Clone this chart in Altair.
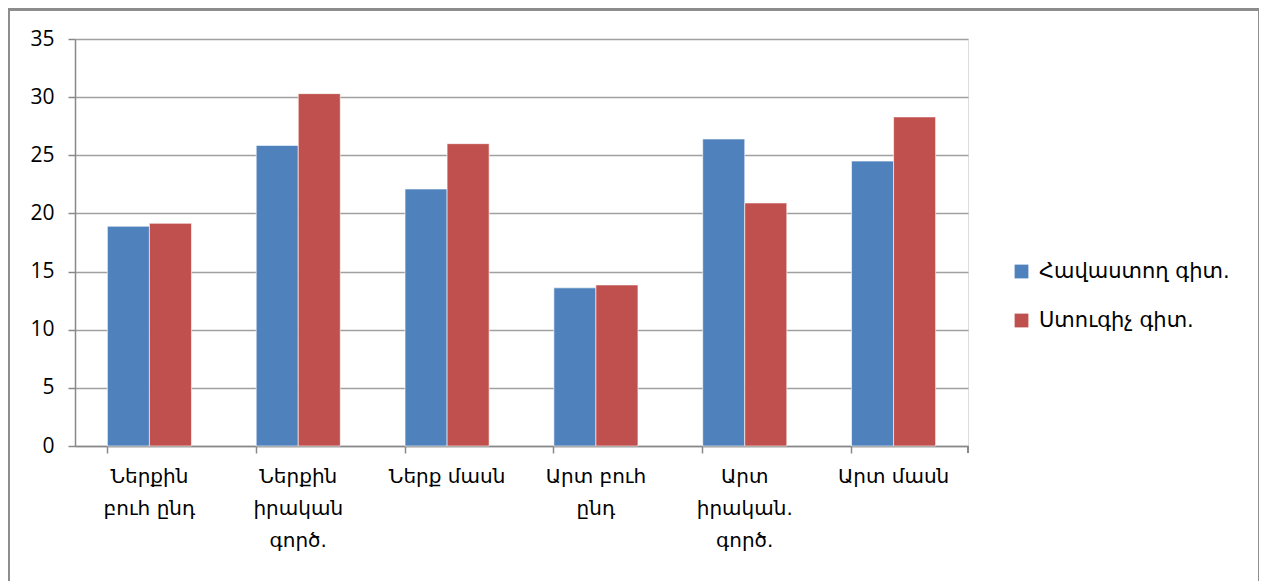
import altair as alt
import pandas as pd

categories = [
    "Ներքին\nբուհ ընդ",
    "Ներքին\nիրական\nգործ.",
    "Ներք մասն",
    "Արտ բուհ\nընդ",
    "Արտ\nիրական.\nգործ.",
    "Արտ մասն",
]
series = ["Հավաստող գիտ.", "Ստուգիչ գիտ."]
values_a = [18.9, 25.85, 22.1, 13.6, 26.4, 24.5]
values_b = [19.15, 30.3, 26.0, 13.85, 20.9, 28.3]
colors = ["#4F81BD", "#C0504D"]
y_ticks = [0, 5, 10, 15, 20, 25, 30, 35]

rows = []
for c, a, b in zip(categories, values_a, values_b):
    rows.append({"cat": c, "series": series[0], "value": a})
    rows.append({"cat": c, "series": series[1], "value": b})
df = pd.DataFrame(rows)

W, H = 893, 407
arm = "DejaVu Sans"

bars = alt.Chart(df).mark_bar(stroke="white", strokeOpacity=0.6, strokeWidth=1).encode(
    x=alt.X(
        "cat:N",
        sort=categories,
        title=None,
        scale=alt.Scale(paddingInner=0.435, paddingOuter=0.2175),
        axis=alt.Axis(
            bandPosition=0,
            labelExpr="split(datum.label, '\\n')",
            labelAngle=0,
            labelFont=arm,
            labelFontSize=20,
            labelLineHeight=32,
            labelColor="#000",
            labelPadding=13,
            labelBaseline="top",
            tickSize=7,
            tickColor="#888",
            domainColor="#888",
            domainWidth=1.5,
            tickWidth=1.5,
            grid=False,
            labelLimit=200,
        ),
    ),
    xOffset=alt.XOffset("series:N", sort=series),
    y=alt.Y(
        "value:Q",
        title=None,
        scale=alt.Scale(domain=[0, 35], nice=False),
        axis=alt.Axis(
            values=y_ticks,
            labelFont="Open Sans",
            labelFontSize=21,
            labelColor="#000",
            labelPadding=14,
            tickSize=7,
            tickColor="#888",
            tickWidth=1.5,
            domainColor="#888",
            domainWidth=1.5,
            gridColor="#a0a0a0",
            gridWidth=1.5,
        ),
    ),
    color=alt.Color(
        "series:N",
        sort=series,
        scale=alt.Scale(domain=series, range=colors),
        legend=alt.Legend(
            title=None,
            orient="none",
            legendX=936,
            legendY=222,
            symbolType="square",
            symbolSize=190,
            symbolStrokeWidth=0,
            symbolOpacity=1,
            labelFont=arm,
            labelFontSize=21,
            labelColor="#000",
            rowPadding=27,
            labelOffset=7,
            labelLimit=300,
        ),
    ),
)

last_tick = alt.Chart(df).mark_rule(color="#888", strokeWidth=1.5).encode(
    x=alt.value(W), y=alt.value(H), y2=alt.value(H + 7)
)

border = alt.Chart(df).mark_rect(fill=None, stroke="#8c8c8c", strokeWidth=2.5).encode(
    x=alt.value(-67), x2=alt.value(1185), y=alt.value(-30), y2=alt.value(620)
)

chart = (
    alt.layer(border, bars, last_tick)
    .properties(
        width=W,
        height=H,
        autosize=alt.AutoSizeParams(type="none"),
        padding={"left": 67, "top": 31, "right": 291, "bottom": 160},
    )
    .configure_view(stroke=None)
    .configure(background="white")
)

chart.save("out.html", embed_options={"renderer": "svg", "actions": False})
